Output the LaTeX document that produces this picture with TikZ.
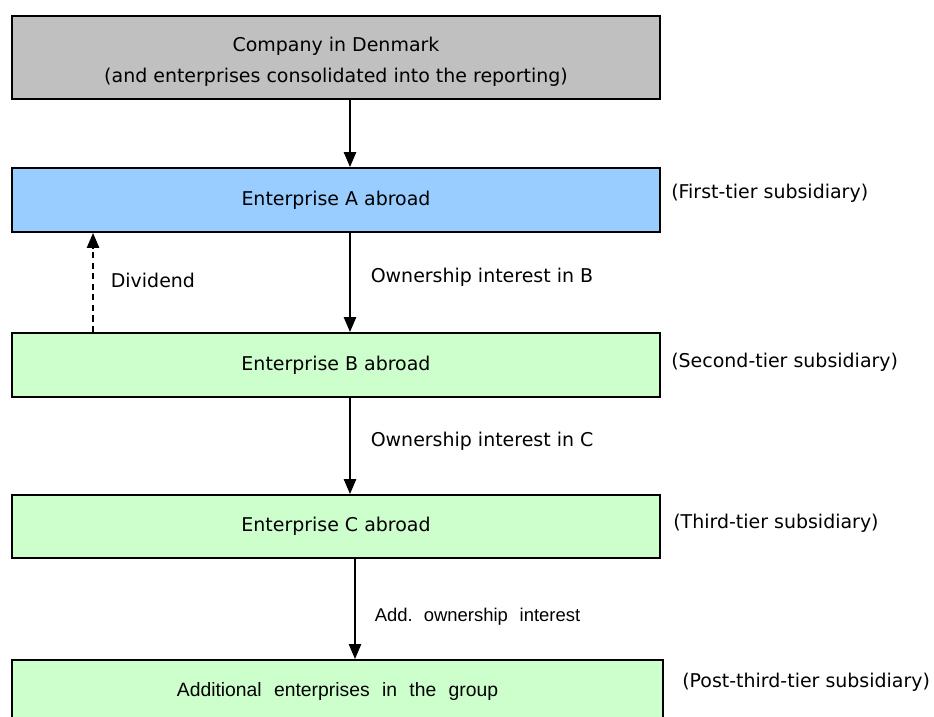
\documentclass[tikz,border=0pt]{standalone}
\usepackage{fontspec}
\setmainfont{DejaVu Sans}
\newfontfamily\arialfont[WordSpace=2.3]{Liberation Sans}
\usetikzlibrary{arrows.meta, positioning}
\definecolor{dkgray}{RGB}{192,192,192}
\definecolor{tierblue}{RGB}{153,204,255}
\definecolor{tiergreen}{RGB}{204,255,204}
\tikzset{
  tierbox/.style={draw=black, line width=1.1pt, minimum width=12.96cm, minimum height=1.28cm, inner sep=0pt, font=\fontsize{10.8}{18}\selectfont},
  owns/.style={-{Triangle[length=8.5pt,width=7pt]}, line width=0.9pt},
  tiertext/.style={anchor=west, inner sep=0pt, font=\fontsize{10.8}{13}\selectfont},
  flowtext/.style={inner sep=0pt, font=\fontsize{10.8}{13}\selectfont}
}

\begin{document}
\begin{tikzpicture}[x=0.02cm, y=-0.02cm]
\useasboundingbox (0,0) rectangle (934,717);
% boxes
\node [tierbox, fill=dkgray, minimum height=1.66cm, align=center] (dk) at (336,57.5) {\rule{0pt}{13pt}Company in Denmark\\(and enterprises consolidated into the reporting)};
\node [tierbox, fill=tierblue] (ea) at (336,200) {Enterprise A abroad};
\node [tierbox, fill=tiergreen] (eb) at (336,365) {Enterprise B abroad};
\node [tierbox, fill=tiergreen, minimum height=1.26cm] (ec) at (336,526.5) {Enterprise C abroad};
\node [tierbox, fill=tiergreen, minimum width=13.02cm, minimum height=1.24cm, font=\arialfont\fontsize{11}{13}\selectfont] (ed) at (337.5,691) {Additional enterprises in the group};
% tier labels
\node [tiertext, right=0.2cm of ea, yshift=0.14cm] (t1) {(First-tier subsidiary)};
\node [tiertext, right=0.2cm of eb, yshift=0.06cm] (t2) {(Second-tier subsidiary)};
\node [tiertext, right=0.24cm of ec, yshift=0.06cm] (t3) {(Third-tier subsidiary)};
\node [tiertext, right=0.36cm of ed, yshift=0.18cm] (t4) {(Post-third-tier subsidiary)};
% ownership arrows
\draw [owns] ([xshift=0.28cm]dk.south) -- ([xshift=0.28cm]ea.north);
\draw [owns] ([xshift=0.28cm]ea.south) -- node[flowtext, anchor=west, xshift=0.4cm, yshift=0.1cm]{Ownership interest in B} ([xshift=0.28cm]eb.north);
\draw [owns] ([xshift=0.28cm]eb.south) -- node[flowtext, anchor=west, xshift=0.4cm, yshift=0.1cm]{Ownership interest in C} ([xshift=0.28cm]ec.north);
\draw [owns] ([xshift=0.38cm]ec.south) -- node[flowtext, anchor=west, xshift=0.38cm, yshift=-0.16cm, font=\arialfont\fontsize{10.5}{13}\selectfont]{Add.\hspace{0.6em}ownership interest} ([xshift=0.35cm]ed.north);
% dividend
\draw [owns, dash pattern=on 3.5pt off 2.5pt] ([xshift=-4.86cm]eb.north) -- node[flowtext, anchor=west, xshift=0.34cm, yshift=0.05cm]{Dividend} ([xshift=-4.86cm]ea.south);
\end{tikzpicture}
\end{document}
